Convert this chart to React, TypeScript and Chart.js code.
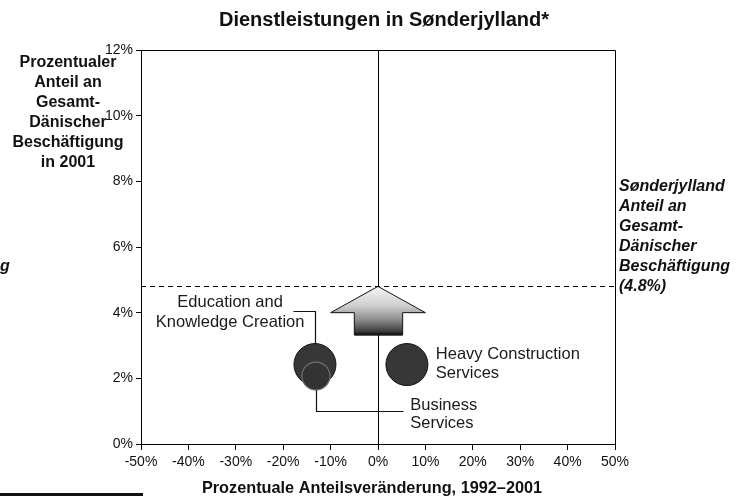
import React, { useEffect, useRef } from "react";
import { Chart, registerables } from "chart.js";

Chart.register(...registerables);

// ---- Data ----
const TITLE = "Dienstleistungen in Sønderjylland*";
const X_TITLE = "Prozentuale Anteilsveränderung, 1992–2001";
const Y_TITLE_LINES = ["Prozentualer", "Anteil an", "Gesamt-", "Dänischer", "Beschäftigung", "in 2001"];
const REF_LABEL_LINES = ["Sønderjylland", "Anteil an", "Gesamt-", "Dänischer", "Beschäftigung", "(4.8%)"];

const X_MIN = -50;
const X_MAX = 50;
const X_STEP = 10;
const Y_MIN = 0;
const Y_MAX = 12;
const Y_STEP = 2;

const bubbleNames = ["Education and Knowledge Creation", "Business Services", "Heavy Construction Services"];
const bubbleX = [-13.3, -13.1, 6.1];
const bubbleY = [2.42, 2.07, 2.42];
const bubbleR = [21, 14, 21];

const REF_SHARE = 4.8; // Sønderjylland share of total Danish employment

// Arrow (data units): tip, head base, shaft
const arrowTip = [0, 4.8];
const arrowHeadBaseY = 4.0;
const arrowHeadX = [-10, 10];
const arrowShaftX = [-5, 5.2];
const arrowShaftBottomY = 3.33;

// Bubble labels (data units, lines)
const eduLabelLines = ["Education and", "Knowledge Creation"];
const eduLabelPos = [-31.2, 4.31];
const eduCallout = [[-17.9, 4.06], [-13.3, 4.06], [-13.3, 2.42]];

const busLabelLines = ["Business", "Services"];
const busLabelPos = [6.8, 1.17];
const busCallout = [[-13.1, 2.07], [-13.1, 1.02], [5.3, 1.02]];

const heavyLabelLines = ["Heavy Construction", "Services"];
const heavyLabelPos = [12.2, 2.72];

const FONT = 'Arial, "Liberation Sans", sans-serif';

const overlayPlugin = {
  id: "overlay",
  beforeDatasetsDraw(chart: any) {
    const { ctx, chartArea, scales } = chart;
    const { left, right, top, bottom } = chartArea;
    const xs = scales.x;
    const ys = scales.y;
    const px = (v: number) => xs.getPixelForValue(v);
    const py = (v: number) => ys.getPixelForValue(v);
    ctx.save();
    ctx.strokeStyle = "#000";
    ctx.lineWidth = 1;
    // top & right border
    ctx.beginPath();
    ctx.moveTo(left, Math.round(top) + 0.5);
    ctx.lineTo(Math.round(right) + 0.5, Math.round(top) + 0.5);
    ctx.lineTo(Math.round(right) + 0.5, bottom);
    ctx.stroke();
    // zero vertical line
    const x0 = Math.round(px(0)) + 0.5;
    ctx.beginPath();
    ctx.moveTo(x0, top);
    ctx.lineTo(x0, bottom);
    ctx.stroke();
    // dashed reference line
    const yr = Math.round(py(REF_SHARE)) + 0.5;
    ctx.setLineDash([5, 4]);
    ctx.beginPath();
    ctx.moveTo(left, yr);
    ctx.lineTo(right, yr);
    ctx.stroke();
    ctx.setLineDash([]);

    // arrow
    const tipX = px(arrowTip[0]);
    const tipY = py(arrowTip[1]);
    const hbY = py(arrowHeadBaseY);
    const sbY = py(arrowShaftBottomY);
    const grad = ctx.createLinearGradient(0, tipY, 0, sbY);
    grad.addColorStop(0, "#f6f6f6");
    grad.addColorStop(0.4, "#cfcfcf");
    grad.addColorStop(0.7, "#8a8a8a");
    grad.addColorStop(1, "#262626");
    ctx.beginPath();
    ctx.moveTo(tipX, tipY);
    ctx.lineTo(px(arrowHeadX[1]), hbY);
    ctx.lineTo(px(arrowShaftX[1]), hbY);
    ctx.lineTo(px(arrowShaftX[1]), sbY);
    ctx.lineTo(px(arrowShaftX[0]), sbY);
    ctx.lineTo(px(arrowShaftX[0]), hbY);
    ctx.lineTo(px(arrowHeadX[0]), hbY);
    ctx.closePath();
    ctx.fillStyle = grad;
    ctx.fill();
    ctx.strokeStyle = "#111";
    ctx.lineWidth = 1;
    ctx.stroke();
    ctx.fillStyle = "#1a1a1a";
    ctx.fillRect(px(arrowShaftX[0]), sbY - 2, px(arrowShaftX[1]) - px(arrowShaftX[0]), 3);

    // callouts
    ctx.strokeStyle = "#111";
    ctx.lineWidth = 1.2;
    for (const pts of [eduCallout, busCallout]) {
      ctx.beginPath();
      pts.forEach((p, i) => {
        const X = Math.round(px(p[0])) + 0.5;
        const Y = Math.round(py(p[1])) + 0.5;
        if (i === 0) ctx.moveTo(X, Y);
        else ctx.lineTo(X, Y);
      });
      ctx.stroke();
    }
    ctx.restore();
  },
  afterDraw(chart: any) {
    const { ctx, scales } = chart;
    const xs = scales.x;
    const ys = scales.y;
    const px = (v: number) => xs.getPixelForValue(v);
    const py = (v: number) => ys.getPixelForValue(v);
    ctx.save();
    ctx.fillStyle = "#111";
    ctx.textBaseline = "middle";

    // title
    ctx.font = `bold 20px ${FONT}`;
    ctx.textAlign = "center";
    ctx.fillText(TITLE, 384, 20);

    // x title
    ctx.font = `bold 16.3px ${FONT}`;
    ctx.fillText(X_TITLE, 372, 489);

    // y title
    ctx.font = `bold 16px ${FONT}`;
    Y_TITLE_LINES.forEach((l, i) => ctx.fillText(l, 68, 63 + i * 20));

    // reference annotation
    ctx.font = `italic bold 16px ${FONT}`;
    ctx.textAlign = "left";
    const refY = py(REF_SHARE);
    const n = REF_LABEL_LINES.length;
    REF_LABEL_LINES.forEach((l, i) => ctx.fillText(l, 619, refY - (n - 1 - i) * 20));

    // stray cut-off text at the left edge
    ctx.fillText("g", 0, 267);

    // bubble labels
    ctx.font = `16.5px ${FONT}`;
    ctx.fillStyle = "#1a1a1a";
    ctx.textAlign = "center";
    eduLabelLines.forEach((l, i) => ctx.fillText(l, px(eduLabelPos[0]), py(eduLabelPos[1]) + i * 20));
    ctx.textAlign = "left";
    busLabelLines.forEach((l, i) => ctx.fillText(l, px(busLabelPos[0]), py(busLabelPos[1]) + i * 18));
    heavyLabelLines.forEach((l, i) => ctx.fillText(l, px(heavyLabelPos[0]), py(heavyLabelPos[1]) + i * 19));

    // footnote separator bar
    ctx.fillStyle = "#111";
    ctx.fillRect(0, 493, 143, 3);
    ctx.restore();
  },
};

export default function App() {
  const ref = useRef<HTMLCanvasElement>(null);
  useEffect(() => {
    if (!ref.current) return;
    const chart = new Chart(ref.current, {
      type: "bubble",
      data: {
        datasets: [
          {
            label: "Services",
            data: bubbleX.map((x, i) => ({ x, y: bubbleY[i], r: bubbleR[i] })),
            backgroundColor: ["#373737", "#333333", "#373737"],
            borderColor: ["#111", "#707070", "#111"],
            borderWidth: [1, 1.2, 1],
          } as any,
        ],
      },
      options: {
        responsive: false,
        animation: false,
        devicePixelRatio: 1,
        layout: { padding: { top: 50, right: 133, left: 0, bottom: 0 } },
        plugins: { legend: { display: false }, tooltip: { enabled: false }, title: { display: false } },
        scales: {
          x: {
            type: "linear",
            min: X_MIN,
            max: X_MAX,
            afterFit: (s: any) => {
              s.height = 54;
            },
            ticks: {
              stepSize: X_STEP,
              callback: (v: any) => `${v}%`,
              font: { size: 14, family: FONT },
              color: "#111",
              padding: 4,
              maxRotation: 0,
            },
            grid: { drawOnChartArea: false, drawTicks: true, tickLength: 6, color: "#000" },
            border: { display: true, color: "#000", width: 1 },
          },
          y: {
            type: "linear",
            min: Y_MIN,
            max: Y_MAX,
            afterFit: (s: any) => {
              s.width = 141;
            },
            ticks: {
              stepSize: Y_STEP,
              callback: (v: any) => `${v}%`,
              font: { size: 14, family: FONT },
              color: "#111",
              padding: 3,
            },
            grid: { drawOnChartArea: false, drawTicks: true, tickLength: 5, color: "#000" },
            border: { display: true, color: "#000", width: 1 },
          },
        },
      },
      plugins: [overlayPlugin],
    });
    return () => chart.destroy();
  }, []);
  return (
    <div style={{ position: "fixed", left: 0, top: 0, width: 748, height: 498, background: "#fff" }}>
      <canvas ref={ref} width={748} height={498} style={{ display: "block" }} />
    </div>
  );
}
